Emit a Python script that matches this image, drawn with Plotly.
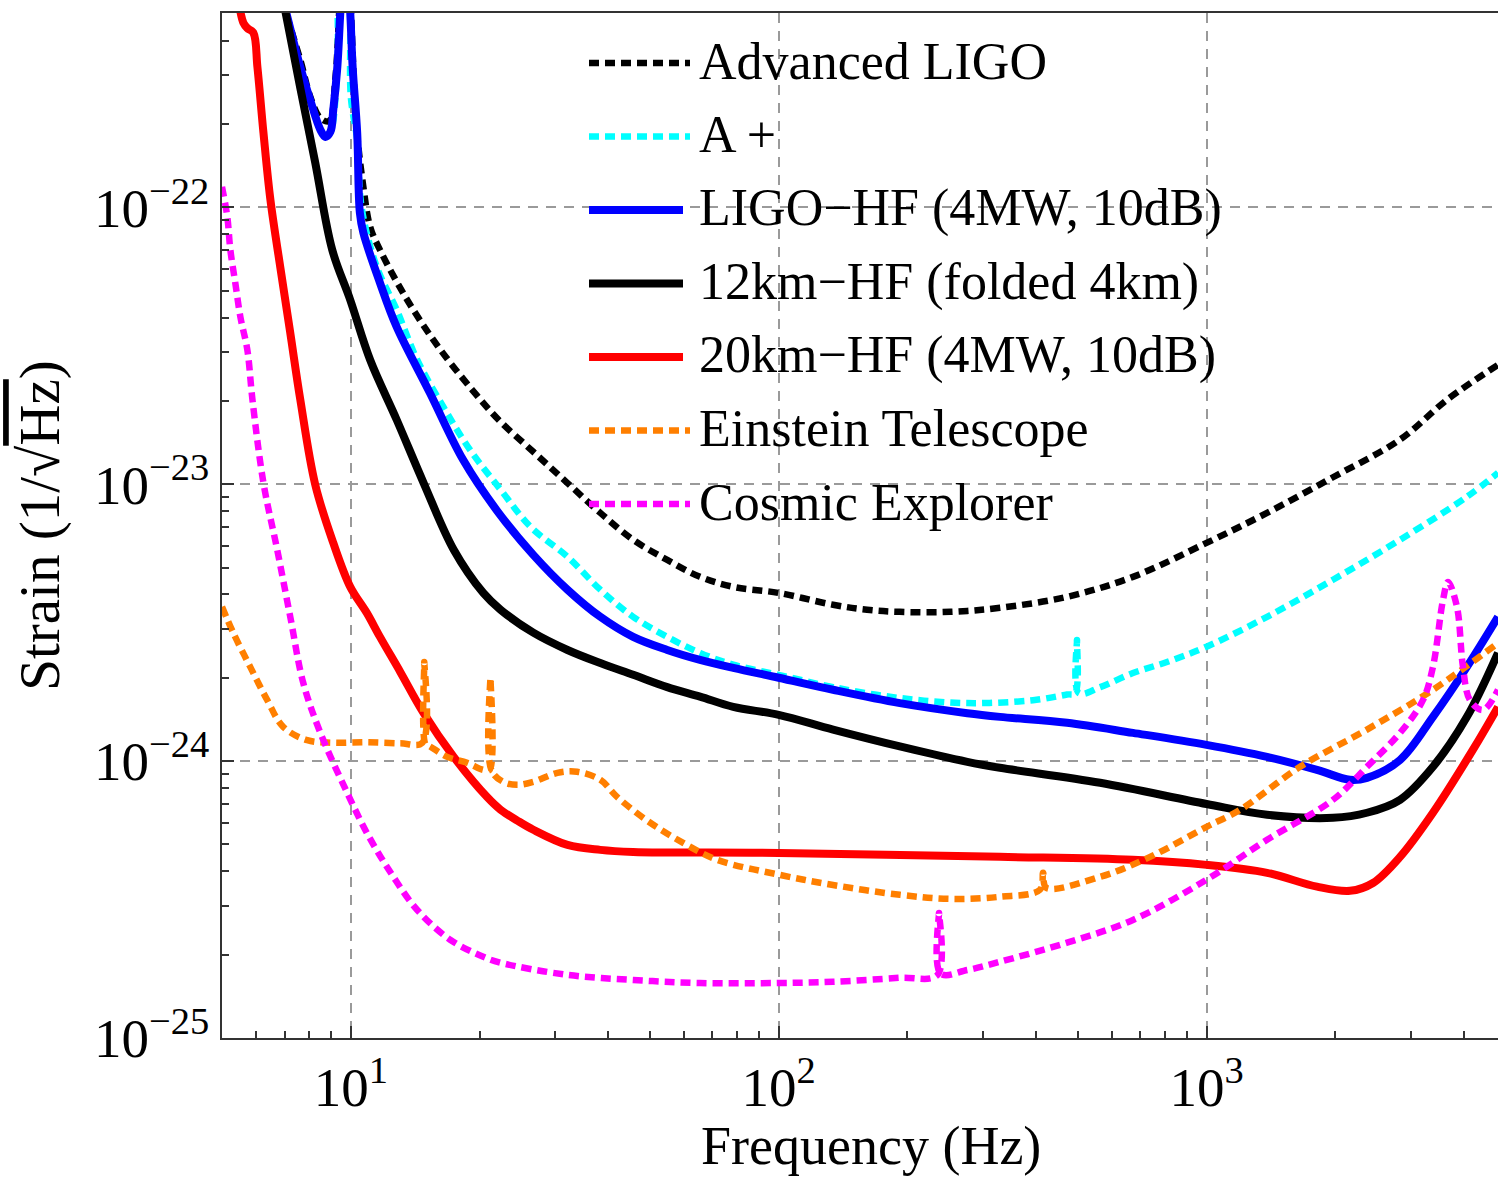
import plotly.graph_objects as go

STRAIN_UNIT = 1e-24  # all strain values below are in units of 1e-24 / sqrt(Hz)

# ---------------- data ----------------
freq_aligo = [6.9, 7.62, 8.04, 8.49, 8.9, 9.2, 9.45, 9.7, 9.95, 10.3, 10.7, 11.1, 11.7, 13.55, 16.2, 20.1,
              22.4, 26.7, 32.1, 38.3, 45.7, 54.9, 65.5, 78.3, 100, 134, 161, 192, 252, 329, 472, 673, 1000,
              1385, 1975, 2833, 3650, 4800]
strain_aligo = [560, 341, 251, 210, 205, 290, 600, 1000, 600, 200, 118.6, 85.0, 70.2, 46.3, 30.6, 20.2,
                16.8, 13.1, 10.1, 7.88, 6.30, 5.33, 4.63, 4.26, 4.05, 3.67, 3.52, 3.46, 3.46, 3.58, 3.92, 4.63,
                6.14, 7.88, 10.6, 14.5, 20.2, 27.0]

freq_aplus = [6.9, 7.62, 8.04, 8.49, 8.72, 8.96, 9.3, 9.5, 9.8, 10.0, 10.35, 10.6, 11.5, 12.8, 14.3, 16.45,
              19.0, 22.4, 26.3, 32.1, 38.3, 45.7, 54.9, 65.5, 78.3, 100, 134, 192, 276, 393, 472, 493, 498,
              503, 564, 673, 808, 1000, 1385, 1975, 2833, 4061, 4800]
strain_aplus = [560, 321, 244, 190, 180, 187, 321, 1000, 1000, 251, 175, 100, 61.0, 42.7, 28.1, 19.05,
                13.3, 9.55, 7.02, 5.47, 4.16, 3.32, 2.81, 2.46, 2.23, 2.05, 1.85, 1.69, 1.62, 1.66, 1.74,
                1.76, 2.74, 1.76, 1.85, 2.08, 2.28, 2.59, 3.32, 4.52, 6.30, 9.01, 11.0]

freq_ligo_hf = [6.95, 7.62, 8.04, 8.49, 8.72, 8.96, 9.10, 9.30, 9.45, 9.7, 9.97, 10.1, 10.35, 10.5, 10.7,
                11.7, 12.8, 15.3, 18.3, 22.0, 26.7, 32.1, 38.3, 45.7, 54.9, 65.5, 78.3, 100, 134, 192, 276,
                329, 472, 673, 1000, 1385, 1812, 2164, 2371, 2833, 3382, 4061, 4800]
strain_ligo_hf = [560, 321, 244, 190.5, 179.7, 187.4, 225, 321, 504, 1000, 504, 321, 186, 95.5, 80.9,
                  53.4, 37.0, 21.4, 12.25, 8.0, 5.56, 4.16, 3.32, 2.81, 2.52, 2.32, 2.17, 2.00, 1.81, 1.62,
                  1.49, 1.445, 1.375, 1.265, 1.145, 1.036, 0.93, 0.856, 0.87, 1.01, 1.445, 2.19, 3.32]

freq_12km = [6.95, 7.62, 8.26, 9.05, 9.97, 11.1, 12.8, 14.8, 17.4, 20.4, 22.4, 26.7, 32.1, 38.3, 45.7, 54.9,
             65.5, 78.3, 100, 134, 192, 276, 329, 564, 1000, 1385, 1975, 2371, 2833, 3382, 4061, 4800]
strain_12km = [560, 270, 144.8, 70.2, 46.3, 28.1, 17.1, 10.1, 5.80, 4.05, 3.52, 2.91, 2.52, 2.26, 2.05,
               1.85, 1.71, 1.57, 1.47, 1.30, 1.13, 0.994, 0.946, 0.835, 0.70, 0.640, 0.624, 0.651, 0.725,
               0.954, 1.445, 2.46]

freq_20km = [5.46, 5.61, 5.73, 5.92, 6.05, 6.25, 6.49, 6.84, 7.22, 7.62, 8.26, 9.10, 9.97, 10.9, 11.7,
             13.05, 14.8, 17.4, 20.8, 22.4, 24.5, 26.7, 32.1, 38.3, 45.7, 100, 329, 673, 1000, 1385, 1812,
             2164, 2449, 2833, 3382, 4195, 4800]
strain_20km = [560, 464, 444, 427, 321, 186, 106, 61.0, 35.2, 20.2, 9.95, 6.14, 4.26, 3.43, 2.81, 2.10,
               1.49, 1.036, 0.743, 0.667, 0.61, 0.565, 0.498, 0.478, 0.470, 0.466, 0.451, 0.440, 0.422,
               0.395, 0.352, 0.340, 0.363, 0.451, 0.651, 1.10, 1.57]

freq_et = [5.0, 5.31, 5.82, 6.38, 6.95, 7.91, 9.10, 10.9, 13.05, 14.7, 14.85, 14.95, 15.3, 16.8, 18.7,
           20.4, 21.1, 21.2, 21.3, 22.7, 24.5, 26.7, 30.4, 33.8, 38.3, 41.9, 50.1, 59.8, 71.8, 100, 134, 192,
           252, 329, 408, 415, 422, 564, 738, 1000, 1198, 1654, 2371, 3382, 4800]
strain_et = [3.61, 2.91, 2.19, 1.66, 1.33, 1.19, 1.165, 1.17, 1.16, 1.165, 2.28, 1.15, 1.13, 1.036, 0.986,
             0.93, 0.93, 2.00, 0.93, 0.842, 0.821, 0.842, 0.907, 0.915, 0.856, 0.743, 0.599, 0.507, 0.440,
             0.389, 0.357, 0.329, 0.318, 0.3236, 0.343, 0.395, 0.349, 0.382, 0.451, 0.579, 0.667, 0.954,
             1.30, 1.81, 2.67]

freq_ce = [5.0, 5.145, 5.23, 5.37, 5.52, 5.73, 5.89, 6.25, 6.73, 7.22, 7.74, 8.49, 9.81, 10.9, 12.4, 14.3,
           17.1, 20.4, 22.4, 32.1, 45.7, 65.5, 100, 134, 192, 235, 237, 239, 276, 329, 472, 673, 1000, 1385,
           1975, 2371, 2833, 3204, 3382, 3570, 3668, 3848, 3975, 4128, 4426, 4800]
strain_ce = [118.6, 92.4, 70.2, 53.4, 40.2, 30.6, 20.2, 10.1, 5.80, 3.32, 1.92, 1.265, 0.768, 0.551, 0.395,
             0.290, 0.226, 0.1965, 0.187, 0.169, 0.162, 0.158, 0.158, 0.1596, 0.165, 0.169, 0.283, 0.171,
             0.176, 0.1885, 0.221, 0.267, 0.373, 0.520, 0.725, 0.954, 1.265, 1.66, 2.19, 3.82, 4.44, 3.61,
             2.19, 1.66, 1.53, 1.81]

series_names = ["Advanced LIGO", "A +", "LIGO\u2212HF (4MW, 10dB)", "12km\u2212HF (folded 4km)",
                "20km\u2212HF (4MW, 10dB)", "Einstein Telescope", "Cosmic Explorer"]
series_freqs = [freq_aligo, freq_aplus, freq_ligo_hf, freq_12km, freq_20km, freq_et, freq_ce]
series_strains = [strain_aligo, strain_aplus, strain_ligo_hf, strain_12km, strain_20km, strain_et, strain_ce]

x_tick_vals = [10, 100, 1000]
x_tick_text = ["10<sup>1</sup>", "10<sup>2</sup>", "10<sup>3</sup>"]
y_tick_vals = [1e-25, 1e-24, 1e-23, 1e-22]
y_tick_text = ["10<sup>\u221225</sup>", "10<sup>\u221224</sup>", "10<sup>\u221223</sup>", "10<sup>\u221222</sup>"]
x_title = "Frequency (Hz)"
y_title = "Strain (1/\u221a<span style='text-decoration:overline'>Hz</span>)"

# ---------------- styles ----------------
DOT = "10px,6px"
styles = [
    dict(color="#000000", width=6.5, dash=DOT),
    dict(color="#00ffff", width=6.5, dash=DOT),
    dict(color="#0000ff", width=8, dash="solid"),
    dict(color="#000000", width=8, dash="solid"),
    dict(color="#ff0000", width=8, dash="solid"),
    dict(color="#ff7f00", width=6.5, dash=DOT),
    dict(color="#ff00ff", width=6.5, dash=DOT),
]

FONT = "Liberation Serif, Times New Roman, serif"
W, H = 1498, 1182
L, R, T, B = 222, 0, 13, 144

fig = go.Figure()
for name, fx, sy, st in zip(series_names, series_freqs, series_strains, styles):
    fig.add_trace(go.Scatter(x=fx, y=[v * STRAIN_UNIT for v in sy], mode="lines", name=name,
                             line=dict(st, shape="spline", smoothing=1.0), showlegend=False))

# minor ticks
x_minor = [m * 10 ** e for e in range(0, 4) for m in range(2, 10) if 5 <= m * 10 ** e <= 4800]
y_minor = [m * 10.0 ** e for e in range(-25, -21) for m in range(2, 10)]
y_minor = [v for v in y_minor if v <= 5.0e-22]

axis_common = dict(
    type="log", showline=True, linecolor="#333333", linewidth=1.5,
    ticks="inside", ticklen=12, tickwidth=1.5, tickcolor="#333333",
    showgrid=True, gridcolor="#9a9a9a", gridwidth=1.5, griddash="10px,8px",
    zeroline=False, tickfont=dict(family=FONT, size=55, color="black"),
)

fig.update_layout(
    width=W, height=H,
    margin=dict(l=L, r=R, t=T, b=B),
    paper_bgcolor="white", plot_bgcolor="white",
    xaxis=dict(axis_common, range=[0.69897, 3.6812], mirror=True,
               tickmode="array", tickvals=x_tick_vals, ticktext=x_tick_text,
               minor=dict(ticks="inside", ticklen=7, tickwidth=1.5, tickcolor="#333333",
                          tickmode="array", tickvals=x_minor, showgrid=False)),
    yaxis=dict(axis_common, range=[-25, -21.298], mirror=False,
               tickmode="array", tickvals=y_tick_vals, ticktext=y_tick_text,
               minor=dict(ticks="inside", ticklen=7, tickwidth=1.5, tickcolor="#333333",
                          tickmode="array", tickvals=y_minor, showgrid=False),
               title=dict(text=y_title, standoff=16,
                          font=dict(family=FONT, size=57, color="black"))),
)

plot_w = W - L - R
plot_h = H - T - B
def px_x(p):
    return (p - L) / plot_w
def px_y(p):
    return (H - B - p) / plot_h

# x-axis title (placed to match the original, which is centred on the full uncropped axis)
fig.add_annotation(xref="paper", yref="paper", x=px_x(871), y=px_y(1146), xanchor="center",
                   yanchor="middle", showarrow=False, text=x_title,
                   font=dict(family=FONT, size=54, color="black"))

# ---------------- manual legend (long line samples like the original) ----------------
leg_top = 63
leg_step = 73.5
for i, (name, st) in enumerate(zip(series_names, styles)):
    yc = leg_top + i * leg_step
    x_end = 690 if st["dash"] == DOT else 683
    fig.add_shape(type="line", xref="paper", yref="paper",
                  x0=px_x(589), x1=px_x(x_end), y0=px_y(yc), y1=px_y(yc),
                  line=dict(color=st["color"], width=st["width"], dash=st["dash"]))
    fig.add_annotation(xref="paper", yref="paper", x=px_x(697), y=px_y(yc - 2),
                       xanchor="left", yanchor="middle", showarrow=False, text=name,
                       font=dict(family=FONT, size=52, color="black"))

fig.write_html("out.html")
